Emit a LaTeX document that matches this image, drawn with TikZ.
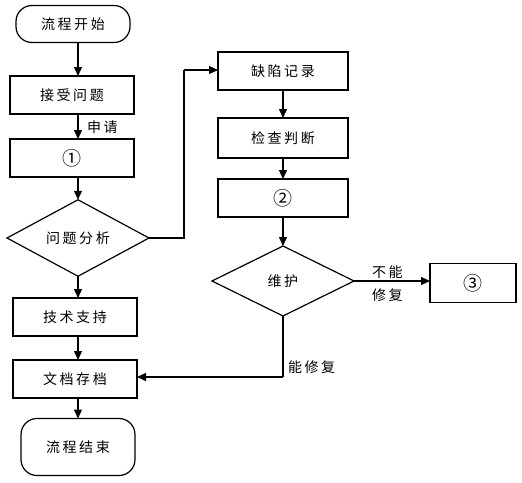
\documentclass[tikz,border=0pt]{standalone}
\usepackage{fontspec}
\setmainfont{Noto Sans CJK SC}[LetterSpace=18]
\usetikzlibrary{shapes.geometric,arrows.meta}
\begin{document}
\begin{tikzpicture}[x=1pt,y=-1pt,
  every node/.style={font=\fontsize{14}{14}\selectfont, inner sep=0pt, outer sep=0pt},
  box/.style={draw, line width=1.2pt, minimum width=124pt, minimum height=38pt},
  term/.style={draw, line width=1.2pt, rounded corners=16pt, minimum width=114pt},
  dia/.style={draw, line width=1.2pt, diamond, minimum width=142pt, minimum height=70pt},
  num/.style={font=\fontsize{19}{19}\selectfont},
  lbl/.style={font=\fontsize{14}{14}\selectfont},
  arr/.style={line width=1.2pt, -{Triangle[length=9pt,width=8pt]}},
  ln/.style={line width=1.2pt}]
\useasboundingbox (0,0) rectangle (522,482);
% left column
\node[term, minimum height=37pt] (start) at (73,24) {流程开始};
\node[box] (accept) at (72,95) {接受问题};
\node[box, num] (one) at (72,158) {①};
\node[dia] (analyse) at (78,238) {问题分析};
\node[box] (tech) at (75,317) {技术支持};
\node[box] (doc) at (75,379) {文档存档};
\node[term, minimum height=57pt] (stop) at (78,447) {流程结束};
% right column
\node[box, minimum width=130pt] (defect) at (283,71) {缺陷记录};
\node[box, minimum width=130pt, minimum height=40pt] (check) at (283,138) {检查判断};
\node[box, num, minimum width=130pt] (two) at (283,198) {②};
\node[dia] (maint) at (283,281) {维护};
\node[box, num, minimum width=86pt, minimum height=39pt] (three) at (473,283) {③};
% connectors
\coordinate (c1) at (184,238);
\coordinate (c2) at (184,70);
\coordinate (c3) at (283,377);
\draw[arr] (start.south -| 78,0) -- (accept.north -| 78,0);
\draw[arr] (accept.south -| 78,0) -- (one.north -| 78,0);
\draw[arr] (one.south -| 78,0) -- (analyse.north);
\draw[arr] (analyse.south) -- (tech.north -| 78,0);
\draw[arr] (tech.south -| 78,0) -- (doc.north -| 78,0);
\draw[arr] (doc.south -| 78,0) -- (stop.north -| 78,0);
\draw[ln] (analyse.east) -- (c1) -- (c2);
\draw[arr] (c2) -- (c2 -| defect.west);
\draw[arr] (defect.south) -- (check.north);
\draw[arr] (check.south) -- (two.north);
\draw[arr] (two.south) -- (maint.north);
\draw[arr] (maint.east) -- (maint.east -| three.west);
\draw[ln] (maint.south) -- (c3);
\draw[arr] (c3) -- (c3 -| doc.east);
% labels
\node[lbl, anchor=west] (lreq) at (87,127) {申请};
\node[lbl, anchor=west] (lno1) at (372,272) {不能};
\node[lbl, anchor=west] (lno2) at (372,295) {修复};
\node[lbl, anchor=west] (lyes) at (288,367) {能修复};
\end{tikzpicture}
\end{document}
